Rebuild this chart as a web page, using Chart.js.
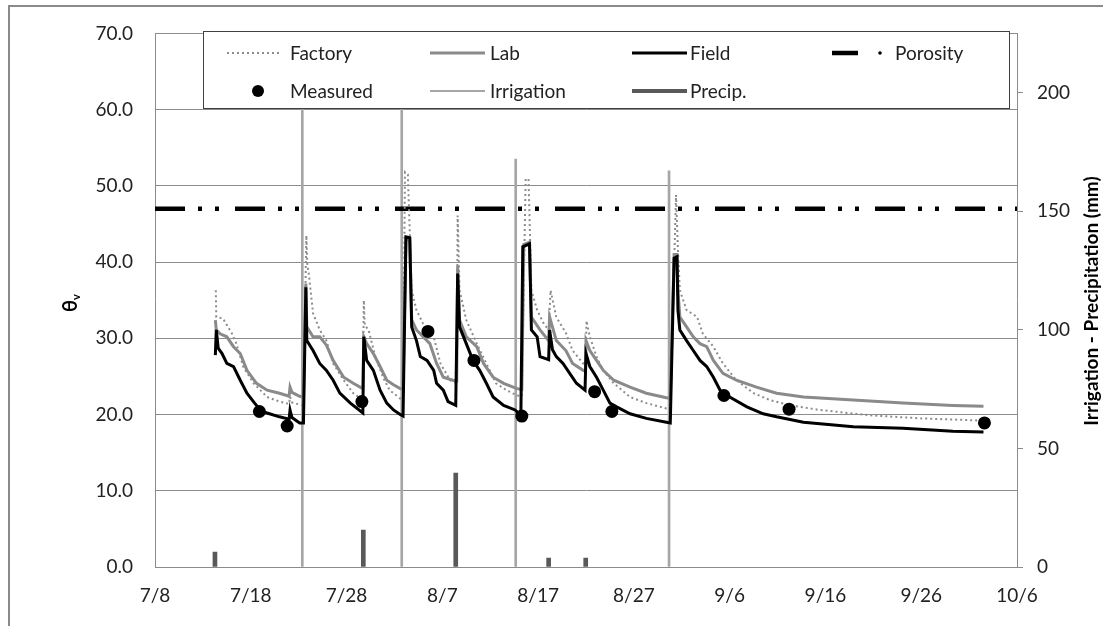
<!DOCTYPE html>
<html lang="en">
<head>
    <meta charset="UTF-8">
    <title>Soil moisture</title>
    <script src="https://cdn.jsdelivr.net/npm/chart.js"></script>
    <style>
        body { margin: 0; background: #fff; }
    </style>
</head>
<body>
    <canvas id="moistureChart" width="1103" height="626"></canvas>

    <script>
        // x = days after 7/8
        const tickLabels = ['7/8', '7/18', '7/28', '8/7', '8/17', '8/27', '9/6', '9/16', '9/26', '10/6'];

        const factory = [
            [6.35, 36.3], [6.4, 32.8], [7.1, 32.6], [8.0, 30.7], [8.5, 29.3], [9.2, 26.3], [10.3, 24.1], [11.7, 22.3],
            [13.0, 21.7], [14.0, 21.4], [14.1, 22.3], [14.3, 21.6], [15.1, 21.3],
            [15.5, 21.2], [15.8, 43.5], [15.9, 39.8], [16.1, 38.0], [16.5, 33.3], [17.2, 31.1], [17.9, 29.7], [18.6, 26.7],
            [19.7, 24.5], [20.7, 22.8], [21.7, 21.9],
            [21.8, 35.0], [21.9, 31.7], [22.3, 31.1], [23.0, 27.6], [23.8, 24.9], [24.5, 23.2], [25.6, 22.1],
            [25.9, 22.0], [26.1, 51.8], [26.4, 51.5], [26.8, 36.3], [27.3, 33.7], [28.0, 31.9], [29.1, 30.2], [29.8, 26.7],
            [30.8, 24.5], [31.5, 24.1],
            [31.6, 46.1], [31.8, 36.3], [32.5, 32.4], [33.6, 29.3], [34.6, 26.7], [35.6, 24.1], [36.7, 23.2], [37.8, 22.5],
            [38.3, 22.4], [38.7, 50.9], [39.0, 50.9], [39.3, 36.3], [39.9, 33.7], [40.6, 31.9], [41.1, 31.1],
            [41.3, 36.3], [41.9, 32.8], [42.9, 30.7], [43.6, 28.4], [44.7, 26.7], [44.95, 26.5],
            [45.05, 32.3], [45.4, 30.2], [46.1, 27.6], [46.8, 25.8], [47.9, 24.1], [49.6, 22.3], [51.3, 21.5], [53.4, 20.8], [53.8, 20.7],
            [54.4, 48.8], [54.6, 41.5], [54.8, 36.3], [55.5, 33.7], [56.6, 32.8], [57.2, 30.6], [58.3, 28.9], [59.3, 26.7],
            [60.7, 24.5], [62.5, 22.8], [64.2, 21.9], [66.3, 21.2], [69.4, 20.6], [74.7, 19.9], [79.9, 19.5], [86.5, 19.2]
        ];

        const lab = [
            [6.3, 32.4], [6.4, 31.1], [6.8, 30.6], [7.5, 30.2], [8.2, 28.9], [8.9, 28.0], [9.6, 25.8], [10.6, 24.1],
            [11.7, 23.2], [13.0, 22.8], [14.0, 22.4], [14.1, 23.6], [14.3, 22.9], [15.1, 22.4],
            [15.5, 22.3], [15.75, 37.2], [15.85, 31.5], [16.5, 30.2], [17.2, 30.2], [17.9, 29.1], [18.6, 27.1],
            [19.7, 24.9], [20.7, 24.1], [21.7, 23.4],
            [21.8, 30.2], [22.1, 29.3], [22.8, 28.0], [23.5, 26.3], [24.2, 24.5], [24.9, 23.9], [25.6, 23.4],
            [25.9, 23.3], [26.2, 43.0], [26.6, 43.0], [26.8, 32.4], [27.3, 31.1], [28.0, 30.2], [28.7, 29.3],
            [29.4, 26.7], [30.1, 24.9], [31.1, 24.5], [31.5, 24.4],
            [31.6, 39.5], [31.8, 32.4], [32.5, 30.2], [33.6, 28.9], [34.3, 26.7], [35.3, 24.9], [36.4, 24.1], [37.8, 23.4],
            [38.3, 23.3], [38.5, 42.3], [39.1, 42.6], [39.3, 32.8], [40.2, 31.1], [41.1, 29.7],
            [41.2, 32.8], [41.9, 29.7], [42.9, 28.4], [43.6, 26.7], [44.7, 25.8], [44.95, 25.7],
            [45.0, 29.7], [45.4, 28.4], [46.1, 27.1], [46.8, 25.8], [47.9, 24.5], [49.6, 23.6], [51.3, 22.8], [53.4, 22.2], [53.8, 22.1],
            [54.2, 41.0], [54.5, 41.0], [54.6, 36.3], [54.8, 32.8], [55.5, 31.5], [56.2, 30.2], [56.9, 29.3], [57.6, 28.9],
            [58.3, 27.1], [59.3, 25.4], [60.7, 24.5], [62.8, 23.6], [64.9, 22.8], [67.7, 22.3], [72.9, 21.9], [78.1, 21.5],
            [83.3, 21.2], [86.5, 21.1]
        ];

        const field = [
            [6.3, 27.8], [6.4, 31.1], [6.6, 28.7], [7.0, 28.0], [7.5, 26.7], [8.2, 26.3], [8.9, 24.5], [9.6, 22.8],
            [10.4, 21.5], [11.0, 20.6], [11.7, 20.2], [13.0, 19.7], [14.0, 19.4], [14.1, 20.6], [14.3, 19.6], [15.1, 18.9],
            [15.5, 18.9], [15.75, 36.7], [15.85, 29.7], [16.5, 28.4], [17.2, 26.7], [17.9, 25.8], [18.6, 24.5], [19.3, 22.8],
            [20.4, 21.5], [21.7, 20.2],
            [21.8, 30.2], [22.1, 27.1], [22.8, 25.8], [23.5, 23.2], [24.2, 21.5], [24.9, 20.6], [25.6, 20.0],
            [25.9, 19.8], [26.2, 43.3], [26.6, 43.2], [26.8, 31.5], [27.3, 29.7], [27.7, 27.6], [28.4, 27.1], [29.1, 25.8],
            [29.4, 24.1], [30.1, 23.2], [30.6, 21.7], [31.4, 21.2],
            [31.6, 38.5], [31.8, 31.5], [32.5, 29.3], [33.2, 27.1], [33.9, 25.8], [34.6, 24.1], [35.3, 22.3], [36.4, 21.2],
            [37.6, 20.6], [38.2, 19.9],
            [38.4, 42.0], [39.1, 42.4], [39.3, 31.1], [39.9, 30.2], [40.2, 27.6], [41.1, 27.2],
            [41.2, 31.1], [41.5, 28.5], [41.9, 27.6], [42.6, 26.7], [43.3, 25.4], [44.0, 24.1], [44.9, 23.2],
            [45.0, 28.0], [45.4, 26.3], [46.1, 24.9], [46.8, 23.2], [47.5, 21.5], [48.2, 21.0], [49.6, 20.1], [51.3, 19.5],
            [53.4, 19.0], [53.8, 18.9],
            [54.2, 40.5], [54.5, 40.7], [54.6, 33.7], [54.8, 31.1], [55.5, 29.7], [56.2, 28.4], [56.9, 27.1], [57.6, 26.3],
            [58.3, 24.9], [59.0, 23.2], [60.0, 22.3], [61.8, 21.0], [63.5, 20.1], [64.9, 19.7], [67.7, 19.0], [72.9, 18.4],
            [78.1, 18.2], [83.3, 17.8], [86.5, 17.7]
        ];

        const measured = [
            [10.9, 20.4], [13.8, 18.5], [21.6, 21.7], [28.5, 30.9], [33.3, 27.1], [38.3, 19.8],
            [45.9, 23.0], [47.7, 20.4], [59.4, 22.5], [66.2, 20.7], [86.6, 18.9]
        ];

        const porosity = [[0, 47.0], [90, 47.0]];

        // right axis (mm)
        const irrigation = [[15.38, 194], [25.76, 194], [37.66, 172], [53.67, 167]];
        const precip = [[6.26, 6.3], [21.75, 15.6], [31.4, 39.6], [41.1, 3.8], [44.97, 3.8]];

        const pts = arr => arr.map(([x, y]) => ({ x, y }));

        const FONT = "Lato, 'DejaVu Sans', sans-serif";
        const GRID = '#8c8c8c';

        // frame, axis titles and the boxed legend
        const extras = {
            id: 'extras',
            beforeDraw(chart) {
                const ctx = chart.ctx;
                ctx.save();
                ctx.fillStyle = '#fff';
                ctx.fillRect(0, 0, chart.width, chart.height);
                ctx.strokeStyle = '#8a8a8a';
                ctx.lineWidth = 2;
                ctx.beginPath();
                ctx.moveTo(9, chart.height);
                ctx.lineTo(9, 6);
                ctx.lineTo(chart.width, 6);
                ctx.stroke();
                ctx.restore();
            },
            afterDraw(chart) {
                const ctx = chart.ctx;
                const ds = chart.data.datasets;
                ctx.save();

                // left title: theta_v
                ctx.fillStyle = '#000';
                ctx.translate(77, 305);
                ctx.rotate(-Math.PI / 2);
                ctx.textBaseline = 'alphabetic';
                ctx.font = "bold 20px " + FONT;
                ctx.fillText('\u03b8', -7, 0);
                ctx.font = "bold 11px " + FONT;
                ctx.fillText('v', 5, 3);
                ctx.setTransform(1, 0, 0, 1, 0, 0);

                // right title
                ctx.translate(1092, 301);
                ctx.rotate(-Math.PI / 2);
                ctx.font = "bold 19px " + FONT;
                ctx.textAlign = 'center';
                ctx.textBaseline = 'middle';
                ctx.fillText('Irrigation - Precipitation (mm)', 0, 0);
                ctx.setTransform(1, 0, 0, 1, 0, 0);

                // legend box
                ctx.fillStyle = '#fff';
                ctx.fillRect(203, 31, 806, 77);
                ctx.strokeStyle = '#404040';
                ctx.lineWidth = 1;
                ctx.strokeRect(203.5, 31.5, 806, 77);

                const items = [
                    { i: 0, x: 227, y: 53, tx: 290 },
                    { i: 1, x: 430, y: 53, tx: 490 },
                    { i: 2, x: 632, y: 53, tx: 690 },
                    { i: 3, x: 832, y: 53, tx: 895 },
                    { i: 4, x: 258, y: 91, tx: 290 },
                    { i: 5, x: 430, y: 91, tx: 490 },
                    { i: 6, x: 632, y: 91, tx: 690 }
                ];
                ctx.textAlign = 'left';
                ctx.textBaseline = 'middle';
                ctx.font = "19px " + FONT;
                items.forEach(it => {
                    const d = ds[it.i];
                    ctx.save();
                    if (d.showLine === false) {
                        ctx.fillStyle = d.pointBackgroundColor;
                        ctx.beginPath();
                        ctx.arc(it.x, it.y, 6, 0, Math.PI * 2);
                        ctx.fill();
                    } else if (d.type === 'bar') {
                        ctx.strokeStyle = d.backgroundColor;
                        ctx.lineWidth = d.barThickness;
                        ctx.beginPath();
                        ctx.moveTo(it.x, it.y);
                        ctx.lineTo(it.x + 55, it.y);
                        ctx.stroke();
                    } else if (d.label === 'Porosity') {
                        ctx.strokeStyle = d.borderColor;
                        ctx.lineWidth = d.borderWidth;
                        ctx.beginPath();
                        ctx.moveTo(it.x, it.y);
                        ctx.lineTo(it.x + 26, it.y);
                        ctx.stroke();
                        ctx.fillStyle = d.borderColor;
                        ctx.beginPath();
                        ctx.arc(it.x + 48, it.y, 1.8, 0, Math.PI * 2);
                        ctx.fill();
                    } else {
                        ctx.strokeStyle = d.borderColor;
                        ctx.lineWidth = d.borderWidth;
                        ctx.setLineDash(d.borderDash || []);
                        ctx.beginPath();
                        ctx.moveTo(it.x, it.y);
                        ctx.lineTo(it.x + 55, it.y);
                        ctx.stroke();
                    }
                    ctx.restore();
                    ctx.fillStyle = '#222';
                    ctx.fillText(d.label, it.tx, it.y + 1);
                });
                ctx.restore();
            }
        };

        const tickFont = { family: FONT, size: 19 };

        new Chart(document.getElementById('moistureChart'), {
            type: 'line',
            data: {
                datasets: [
                    {
                        label: 'Factory', data: pts(factory), yAxisID: 'y',
                        borderColor: '#8c8c8c', borderWidth: 2, borderDash: [2, 3],
                        pointRadius: 0, tension: 0, order: 3
                    },
                    {
                        label: 'Lab', data: pts(lab), yAxisID: 'y',
                        borderColor: '#8a8a8a', borderWidth: 3,
                        pointRadius: 0, tension: 0, order: 2
                    },
                    {
                        label: 'Field', data: pts(field), yAxisID: 'y',
                        borderColor: '#000', borderWidth: 3,
                        pointRadius: 0, tension: 0, order: 1
                    },
                    {
                        label: 'Porosity', data: pts(porosity), yAxisID: 'y',
                        borderColor: '#000', borderWidth: 4.5, borderDash: [30, 13, 4, 13, 4, 16],
                        pointRadius: 0, tension: 0, order: 4
                    },
                    {
                        label: 'Measured', data: pts(measured), yAxisID: 'y',
                        showLine: false, pointRadius: 6.5,
                        pointBackgroundColor: '#000', pointBorderWidth: 0, order: 0
                    },
                    {
                        type: 'bar', label: 'Irrigation', data: pts(irrigation), yAxisID: 'y2',
                        backgroundColor: '#a6a6a6', barThickness: 2, grouped: false, order: 5
                    },
                    {
                        type: 'bar', label: 'Precip.', data: pts(precip), yAxisID: 'y2',
                        backgroundColor: '#595959', barThickness: 4, grouped: false, order: 6
                    }
                ]
            },
            options: {
                responsive: false,
                animation: false,
                events: [],
                layout: { padding: { top: 33, left: 0, right: 0, bottom: 0 } },
                plugins: {
                    legend: { display: false },
                    tooltip: { enabled: false }
                },
                scales: {
                    x: {
                        type: 'linear', min: 0, max: 90, offset: false,
                        grid: { display: false, drawTicks: false },
                        border: { display: true, color: GRID },
                        ticks: {
                            stepSize: 10, padding: 17, color: '#222', font: tickFont,
                            maxRotation: 0, autoSkip: false,
                            callback: v => tickLabels[Math.round(v / 10)]
                        },
                        afterFit: s => { s.height = 59; }
                    },
                    y: {
                        position: 'left', min: 0, max: 70,
                        grid: { color: GRID, drawTicks: false },
                        border: { color: GRID },
                        ticks: {
                            stepSize: 10, padding: 22, color: '#222', font: tickFont,
                            callback: v => v.toFixed(1)
                        },
                        afterFit: s => { s.width = 155; }
                    },
                    y2: {
                        position: 'right', min: 0, max: 225,
                        grid: { drawOnChartArea: false, drawTicks: true, tickLength: 6, color: GRID },
                        border: { color: GRID },
                        ticks: {
                            stepSize: 50, includeBounds: false, padding: 14, color: '#222', font: tickFont
                        },
                        afterFit: s => { s.width = 86; }
                    }
                }
            },
            plugins: [extras]
        });
    </script>
</body>
</html>
